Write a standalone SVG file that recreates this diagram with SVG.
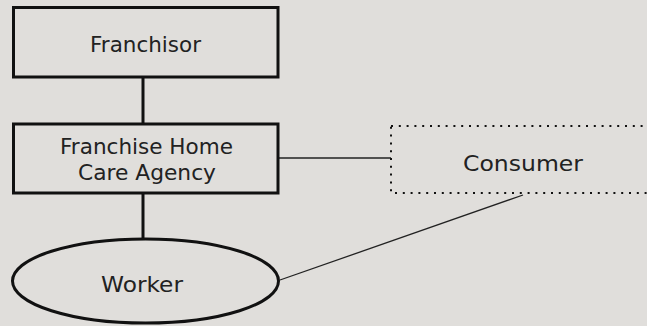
<svg xmlns="http://www.w3.org/2000/svg" width="647" height="326" viewBox="0 0 647 326">
<style>
.box{fill:none;stroke:#111;stroke-width:3}
.dot{fill:none;stroke:#111;stroke-width:2;stroke-dasharray:2 5.8}
.thick{stroke:#111;stroke-width:3;fill:none}
.thin{stroke:#222;stroke-width:1.3;fill:none}
text{font-family:"DejaVu Sans","Liberation Sans",sans-serif;font-size:20.5px;fill:#222;text-anchor:middle}
</style>
<rect width="647" height="326" fill="#e0dedb"/>
<g id="connectors">
<line class="thick" x1="143" y1="77" x2="143" y2="124"/>
<line class="thick" x1="143" y1="193" x2="143" y2="240"/>
<line class="thin" x1="278" y1="158" x2="391" y2="158"/>
<line class="thin" x1="280" y1="280" x2="523" y2="195"/>
</g>
<g id="franchisor">
<rect class="box" x="13.5" y="7.5" width="264.5" height="69.5"/>
<text x="145.5" y="51.7" textLength="111" lengthAdjust="spacingAndGlyphs">Franchisor</text>
</g>
<g id="agency">
<rect class="box" x="13.5" y="124" width="264.5" height="69"/>
<text x="146.5" y="153.5" textLength="173" lengthAdjust="spacingAndGlyphs">Franchise Home</text>
<text x="147" y="180" textLength="138" lengthAdjust="spacingAndGlyphs">Care Agency</text>
</g>
<g id="consumer">
<rect class="dot" x="391" y="126" width="262" height="67"/>
<text x="523" y="171" textLength="120" lengthAdjust="spacingAndGlyphs">Consumer</text>
</g>
<g id="worker">
<ellipse class="box" cx="145.5" cy="281" rx="133" ry="42"/>
<text x="142" y="292" textLength="82" lengthAdjust="spacingAndGlyphs">Worker</text>
</g>
</svg>
